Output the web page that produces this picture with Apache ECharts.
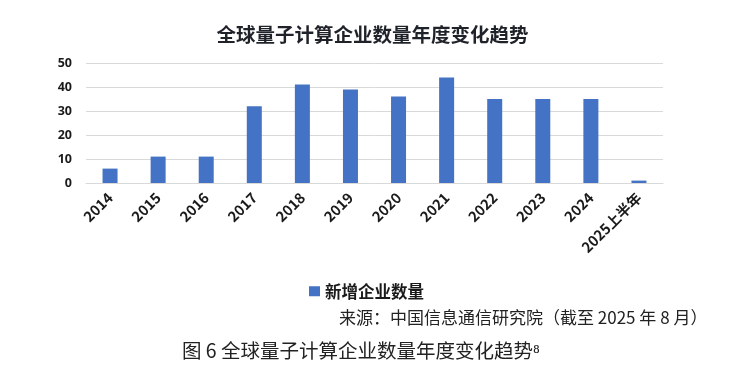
<!DOCTYPE html>
<html>
<head>
<meta charset="utf-8">
<script src="https://cdn.jsdelivr.net/npm/echarts@6/dist/echarts.min.js"></script>
<style>
  html, body { margin: 0; padding: 0; background: #fff; }
  #chart { width: 745px; height: 376px; }
</style>
</head>
<body>
<div id="chart"></div>
<script>
const years = ['2014', '2015', '2016', '2017', '2018', '2019', '2020', '2021', '2022', '2023', '2024', '2025上半年'];
const newCompanies = [6, 11, 11, 32, 41, 39, 36, 44, 35, 35, 35, 1];
const seriesName = '新增企业数量';

const chart = echarts.init(document.getElementById('chart'));

const option = {
  backgroundColor: '#fff',
  title: [
    {
      text: '全球量子计算企业数量年度变化趋势',
      left: 'center',
      top: 20,
      textStyle: { color: '#1f2329', fontSize: 19.5, fontWeight: 'bold', fontFamily: 'Noto Sans CJK SC' }
    },
    {
      // source note under the legend
      text: '来源：中国信息通信研究院（截至 2025 年 8 月）',
      left: 334,
      top: 304,
      textStyle: { color: '#222', fontSize: 17, fontWeight: 'normal', fontFamily: 'Noto Sans CJK SC' }
    },
    {
      text: '图 6 全球量子计算企业数量年度变化趋势⁸',
      left: 177,
      top: 336,
      textStyle: { color: '#222', fontSize: 19.5, fontWeight: 'normal', fontFamily: 'Noto Sans CJK SC' }
    }
  ],
  legend: {
    data: [seriesName],
    left: 304,
    top: 278,
    icon: 'rect',
    itemWidth: 11,
    itemHeight: 10,
    itemGap: 3,
    textStyle: { color: '#1a1a1a', fontSize: 16.5, fontWeight: 'bold', fontFamily: 'Noto Sans CJK SC' }
  },
  grid: { left: 86, right: 82, top: 63, bottom: 193, containLabel: false },
  xAxis: {
    type: 'category',
    data: years,
    axisTick: { show: false },
    axisLine: { lineStyle: { color: '#d9d9d9' } },
    axisLabel: {
      rotate: 45,
      interval: 0,
      margin: 12,
      color: '#1a1a1a',
      fontSize: 14.5,
      fontWeight: 'bold',
      fontFamily: 'Noto Sans CJK SC'
    }
  },
  yAxis: {
    type: 'value',
    min: 0,
    max: 50,
    interval: 10,
    axisLine: { show: false },
    axisTick: { show: false },
    splitLine: { lineStyle: { color: '#d9d9d9' } },
    axisLabel: { color: '#1a1a1a', fontSize: 12.5, fontWeight: 'bold', margin: 14, fontFamily: 'Noto Sans' }
  },
  series: [
    {
      name: seriesName,
      type: 'bar',
      data: newCompanies,
      barWidth: 15,
      itemStyle: { color: '#4472c4' }
    }
  ]
};

chart.setOption(option);
</script>
</body>
</html>
